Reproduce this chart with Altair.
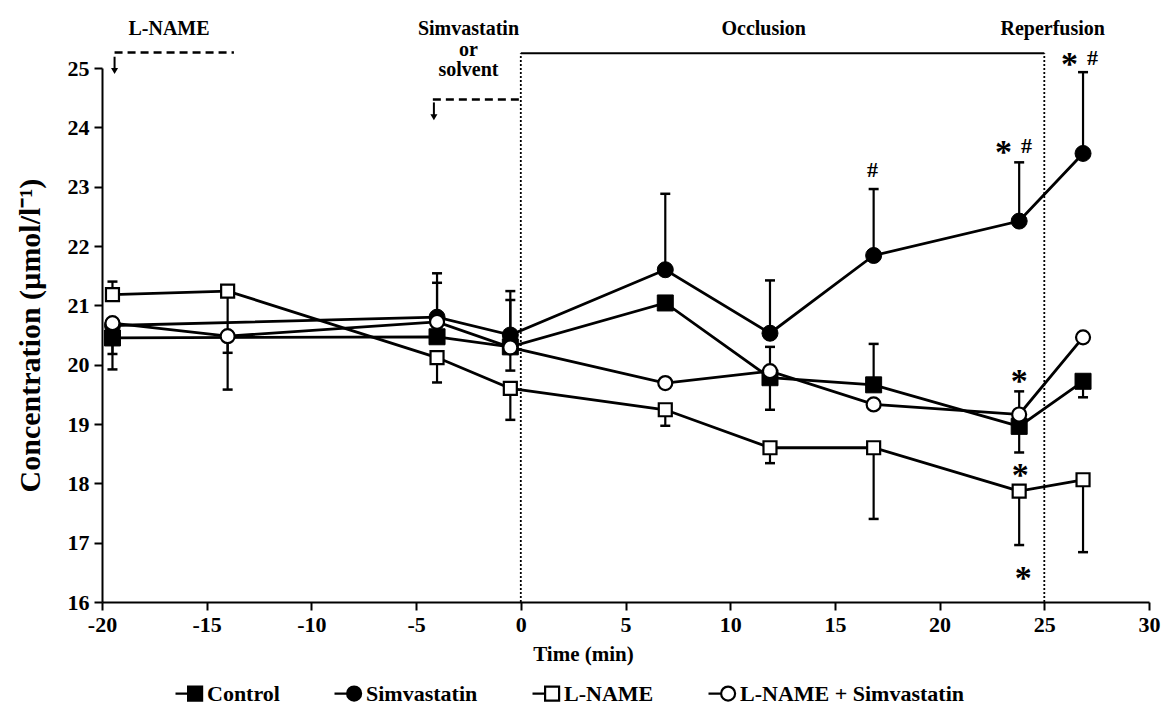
import altair as alt
import pandas as pd

SERIF = "Liberation Serif"

# ---------------- data ----------------
times = [-19.5, -14, -4, -0.5, 6.9, 11.9, 16.85, 23.8, 26.85]
series_names = ["Control", "Simvastatin", "L-NAME", "L-NAME + Simvastatin"]

control_vals = [20.45, None, 20.47, 20.30, 21.04, 19.78, 19.66, 18.96, 19.72]
simva_vals = [20.66, None, 20.80, 20.50, 21.60, 20.53, 21.84, 22.42, 23.56]
lname_vals = [21.18, 21.24, 20.12, 19.60, 19.24, 18.60, 18.60, 17.87, 18.06]
lns_vals = [20.70, 20.48, 20.72, 20.29, 19.69, 19.89, 19.33, 19.16, 20.46]

# end point of the (one-sided) error bar of each mean
control_err = [19.92, None, None, 21.09, None, 19.24, 20.35, 18.52, 19.45]
simva_err = [None, None, 21.54, 21.24, 22.88, 21.42, 22.96, 23.41, 24.93]
lname_err = [21.40, 20.20, 19.70, 19.07, 18.97, 18.34, 17.40, 16.96, 16.84]
lns_err = [20.18, 19.58, 21.38, 19.90, None, 20.30, None, 19.55, None]

# significance marks
star_t = [23.05, 26.2, 23.8, 23.85, 24.0]
star_y = [23.68, 25.17, 19.82, 18.24, 16.50]
hash_t = [16.8, 24.15, 27.3]
hash_y = [23.28, 23.68, 25.17]

# protocol annotations
phase_text = ["L-NAME", "Simvastatin", "or", "solvent", "Occlusion", "Reperfusion"]
phase_t = [-16.8, -2.5, -2.5, -2.5, 11.6, 25.4]
phase_y = [25.556, 25.556, 25.20, 24.86, 25.556, 25.556]

dash_t0 = [-19.4, -4.2]
dash_t1 = [-13.7, -0.05]
dash_y = [25.26, 24.47]
arrow_t = [-19.4, -4.15]
arrow_top = [25.19, 24.42]
arrow_bot = [24.95, 24.17]

frame_t = [0, 25]
frame_y = 25.25

x_ticks = list(range(-20, 31, 5))
y_ticks = list(range(16, 26))

# ---------------- tables ----------------
rows = []
for name, vals, errs in zip(series_names,
                            [control_vals, simva_vals, lname_vals, lns_vals],
                            [control_err, simva_err, lname_err, lns_err]):
    for t, v, e in zip(times, vals, errs):
        if v is None:
            continue
        rows.append({"series": name, "t": t, "v": v, "e": e})
full = pd.DataFrame(rows)
df = full[["series", "t", "v"]]
err_df = full.dropna(subset=["e"]).reset_index(drop=True)

# ---------------- scales / axes ----------------
xscale = alt.Scale(domain=[-20, 30], nice=False, zero=False)
yscale = alt.Scale(domain=[16, 25], nice=False, zero=False)
xaxis = alt.Axis(values=x_ticks, title="Time (min)", grid=False,
                 labelExpr="'' + datum.value",
                 domainColor="black", domainWidth=2, tickColor="black",
                 tickWidth=2, tickSize=8, labelFont=SERIF, labelFontSize=22,
                 labelFontWeight="bold", labelColor="black", labelPadding=4,
                 labelFlush=False, titleFont=SERIF, titleFontSize=21,
                 titleFontWeight="bold", titleColor="black", titlePadding=8,
                 titleX=481, titleAnchor="start", titleAlign="center")
yaxis = alt.Axis(values=y_ticks, title="Concentration (µmol/l⁻¹)", grid=False,
                 labelExpr="'' + datum.value",
                 domainColor="black", domainWidth=2, tickColor="black",
                 tickWidth=2, tickSize=8, labelFont=SERIF, labelFontSize=22,
                 labelFontWeight="bold", labelColor="black", labelPadding=5,
                 labelFlush=False, titleFont=SERIF, titleFontSize=30,
                 titleFontWeight="bold", titleColor="black", titlePadding=22)


def X(f):
    return alt.X(f"{f}:Q", scale=xscale, axis=xaxis)


def Y(f):
    return alt.Y(f"{f}:Q", scale=yscale, axis=yaxis)


# ---------------- protocol frame ----------------
frame_top = alt.Chart(pd.DataFrame({"t0": [frame_t[0]], "t1": [frame_t[1]], "y": [frame_y]})).mark_rule(
    color="black", strokeWidth=2).encode(x=X("t0"), x2="t1:Q", y=Y("y"))
frame_dots = alt.Chart(pd.DataFrame({"t": frame_t, "y0": [16, 16], "y1": [frame_y, frame_y]})).mark_rule(
    color="black", strokeWidth=1.8, strokeDash=[2, 2]).encode(x=X("t"), y=Y("y0"), y2="y1:Q")
dashes = alt.Chart(pd.DataFrame({"t0": dash_t0, "t1": dash_t1, "y": dash_y})).mark_rule(
    color="black", strokeWidth=2.5, strokeDash=[8, 5]).encode(x=X("t0"), x2="t1:Q", y=Y("y"))
adf = pd.DataFrame({"t": arrow_t, "top": arrow_top, "bot": arrow_bot})
arrow_shaft = alt.Chart(adf).mark_rule(color="black", strokeWidth=2).encode(
    x=X("t"), y=Y("top"), y2="bot:Q")
arrow_head = alt.Chart(adf).mark_point(shape="triangle-down", filled=True, color="black",
                                       size=50, opacity=1).encode(x=X("t"), y=Y("bot"))

# ---------------- data marks ----------------
lines = alt.Chart(df).mark_line(color="black", strokeWidth=2.8).encode(
    x=X("t"), y=Y("v"), detail="series:N", order="t:Q")
err_rules = alt.Chart(err_df).mark_rule(color="black", strokeWidth=2.2).encode(
    x=X("t"), y=Y("v"), y2="e:Q")
err_caps = alt.Chart(err_df).mark_tick(color="black", orient="horizontal", size=10,
                                       thickness=2.5, opacity=1).encode(x=X("t"), y=Y("e"))

marker_specs = [
    ("Control", "square", "black", 256, 1),
    ("Simvastatin", "circle", "black", 256, 1),
    ("L-NAME", "square", "white", 169, 2.2),
    ("L-NAME + Simvastatin", "circle", "white", 196, 2.2),
]
point_layers = []
for name, shape, fill, size, sw in marker_specs:
    point_layers.append(
        alt.Chart(df).transform_filter(alt.datum.series == name).mark_point(
            shape=shape, filled=True, fill=fill, stroke="black", strokeWidth=sw,
            size=size, opacity=1).encode(x=X("t"), y=Y("v"))
    )

# legend symbols: short line + marker
sq_path = "M-1,0H-0.1M-0.1,-0.5H0.9V0.5H-0.1Z"
ci_path = "M-1,0H-0.1M0.9,0A0.5,0.5,0,1,1,-0.1,0A0.5,0.5,0,1,1,0.9,0Z"
legend_def = alt.Legend(title=None, orient="none", legendX=72, legendY=610,
                        direction="horizontal", columns=4, columnPadding=50,
                        symbolSize=784, symbolStrokeWidth=2.2, symbolStrokeColor="black",
                        labelFont=SERIF, labelFontSize=22, labelFontWeight="bold",
                        labelColor="black", labelOffset=2, labelLimit=400)
legend_layer = alt.Chart(pd.DataFrame({"series": series_names})).transform_calculate(
    t0="0", yoff="-100").mark_point(filled=True, strokeWidth=2.2, size=784,
                                    opacity=1, clip=True).encode(
    x=X("t0"), y=Y("yoff"),
    shape=alt.Shape("series:N", scale=alt.Scale(domain=series_names,
                                                range=[sq_path, ci_path, sq_path, ci_path]),
                    legend=legend_def),
    fill=alt.Fill("series:N", scale=alt.Scale(domain=series_names,
                                              range=["black", "black", "white", "white"]),
                  legend=legend_def),
    stroke=alt.Stroke("series:N", scale=alt.Scale(domain=series_names,
                                                  range=["black", "black", "black", "black"]),
                      legend=legend_def),
)

# ---------------- texts ----------------
phase = alt.Chart(pd.DataFrame({"t": phase_t, "y": phase_y, "txt": phase_text})).mark_text(
    font=SERIF, fontSize=20, fontWeight="bold", color="black", align="center",
    baseline="alphabetic").encode(x=X("t"), y=Y("y"), text="txt:N")
stars = alt.Chart(pd.DataFrame({"t": star_t, "y": star_y, "txt": ["*"] * len(star_t)})).mark_text(
    font=SERIF, fontSize=34, fontWeight="bold", color="black", align="center",
    baseline="middle", dy=7).encode(x=X("t"), y=Y("y"), text="txt:N")
hashes = alt.Chart(pd.DataFrame({"t": hash_t, "y": hash_y, "txt": ["#"] * len(hash_t)})).mark_text(
    font=SERIF, fontSize=22, fontWeight="bold", color="black", align="center",
    baseline="middle").encode(x=X("t"), y=Y("y"), text="txt:N")

chart = alt.layer(
    frame_top, frame_dots, dashes, arrow_shaft, arrow_head,
    lines, err_rules, err_caps, *point_layers, legend_layer,
    phase, stars, hashes,
).resolve_scale(shape="independent", fill="independent", stroke="independent").properties(
    width=1047, height=534,
    padding={"left": 102, "top": 68, "right": 14, "bottom": 107},
    autosize=alt.AutoSizeParams(type="none"),
    background="white",
).configure_view(stroke=None)

chart.save("out.html", embed_options={"renderer": "svg", "actions": False})
